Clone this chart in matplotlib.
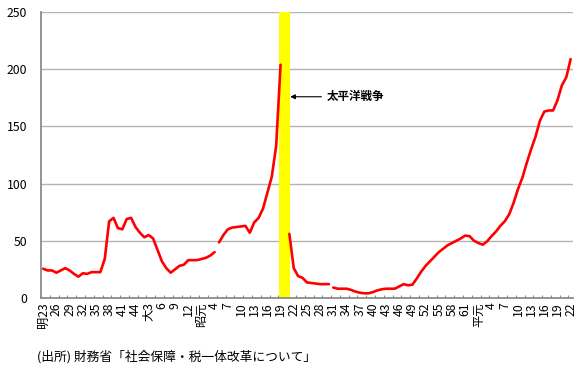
import matplotlib
matplotlib.use('Agg')
import matplotlib.pyplot as plt
import numpy as np

plt.rcParams['font.family'] = ['Noto Sans CJK JP', 'DejaVu Sans']

# 債務残高の対GDP比 (%), 年度ごと, 系列の切れ目ごとに分けてある
start_meiji = 1890
debt_meiji = [25.5, 24, 24, 22, 24, 26, 24, 21, 18.5, 21.5,
              21, 22.5, 22.5, 22.5, 34, 67, 70, 61, 60, 69,
              70, 62, 57, 53, 55, 52, 42, 32, 26, 22,
              25, 28, 29, 33, 33, 33, 34, 35, 37, 40]

start_prewar = 1930
debt_prewar = [48.5, 55, 60, 61.5, 62, 62.5, 63, 57, 66, 70,
               78, 92, 106, 133, 204]

start_postwar = 1946
debt_postwar = [56, 26, 19, 17.5, 13.5, 13, 12.5, 12, 12, 12]

start_modern = 1956
debt_modern = [9, 8, 8, 8, 7, 5.5, 4.5, 4, 4, 5,
               6.5, 7.5, 8, 8, 8, 10, 12, 11, 11.5, 17,
               23, 28, 32, 36, 40, 43, 46, 48, 50, 52,
               54.5, 54, 50, 48, 46.5, 49.5, 54, 58, 63, 67,
               73, 83, 95, 105, 118, 130, 141, 155, 163, 164,
               164, 173, 186, 193, 209]

first_year = 1890
last_year = 2010
tick_years = list(range(1890, 2011, 3))
tick_labels = ['明23', '26', '29', '32', '35', '38', '41', '44',
               '大3', '6', '9', '12', '昭元', '4', '7', '10', '13', '16', '19',
               '22', '25', '28', '31', '34', '37', '40', '43', '46', '49',
               '52', '55', '58', '61', '平元', '4', '7', '10', '13', '16', '19', '22']

war_start, war_end = 1943.7, 1946.2
war_label = '太平洋戦争'
war_label_y = 176
source_text = '(出所) 財務省「社会保障・税一体改革について」'

RED = '#ff0000'
GRID = '#b3b3b3'
AXIS = '#8c8c8c'

fig = plt.figure(figsize=(5.8, 3.7), dpi=100)
ax = fig.add_axes([0.0707, 0.195, 0.917, 0.772])

ax.axvspan(war_start, war_end, color='#ffff00', zorder=1.5, lw=0)

for start, vals in [(start_meiji, debt_meiji), (start_prewar, debt_prewar),
                    (start_postwar, debt_postwar), (start_modern, debt_modern)]:
    ax.plot(range(start, start + len(vals)), vals, color=RED, lw=1.9,
            solid_joinstyle='round', solid_capstyle='round', zorder=2)

ax.set_xlim(first_year - 0.5, last_year + 0.5)
ax.set_ylim(0, 250)
ax.set_yticks(range(0, 251, 50))
ax.yaxis.grid(True, color=GRID, lw=1.0)
ax.set_axisbelow(True)

ax.set_xticks(tick_years)
ax.set_xticklabels(tick_labels, rotation=90, va='top', ha='center', fontsize=8.8)
ax.set_xticks(np.arange(first_year - 0.5, last_year + 1, 2), minor=True)
ax.tick_params(axis='x', which='major', length=0, pad=3)
ax.tick_params(axis='x', which='minor', direction='in', length=2.5,
               color=AXIS, width=0.8)
ax.tick_params(axis='y', length=0, pad=10, labelsize=8.8)

for s in ['top', 'right']:
    ax.spines[s].set_visible(False)
for s in ['left', 'bottom']:
    ax.spines[s].set_color(AXIS)
    ax.spines[s].set_linewidth(1.3)

ax.annotate('', xy=(war_end, war_label_y), xytext=(1953.3, war_label_y),
            arrowprops=dict(arrowstyle='-|>', color='black', lw=0.8,
                            mutation_scale=7, shrinkA=0, shrinkB=0),
            zorder=4)
ax.text(1954.6, war_label_y, war_label, fontsize=8.3, ha='left', va='center',
        fontweight='bold', zorder=4)

fig.text(0.064, 0.035, source_text, fontsize=9.2, ha='left', va='center')

fig.savefig('out.png', dpi=100)
